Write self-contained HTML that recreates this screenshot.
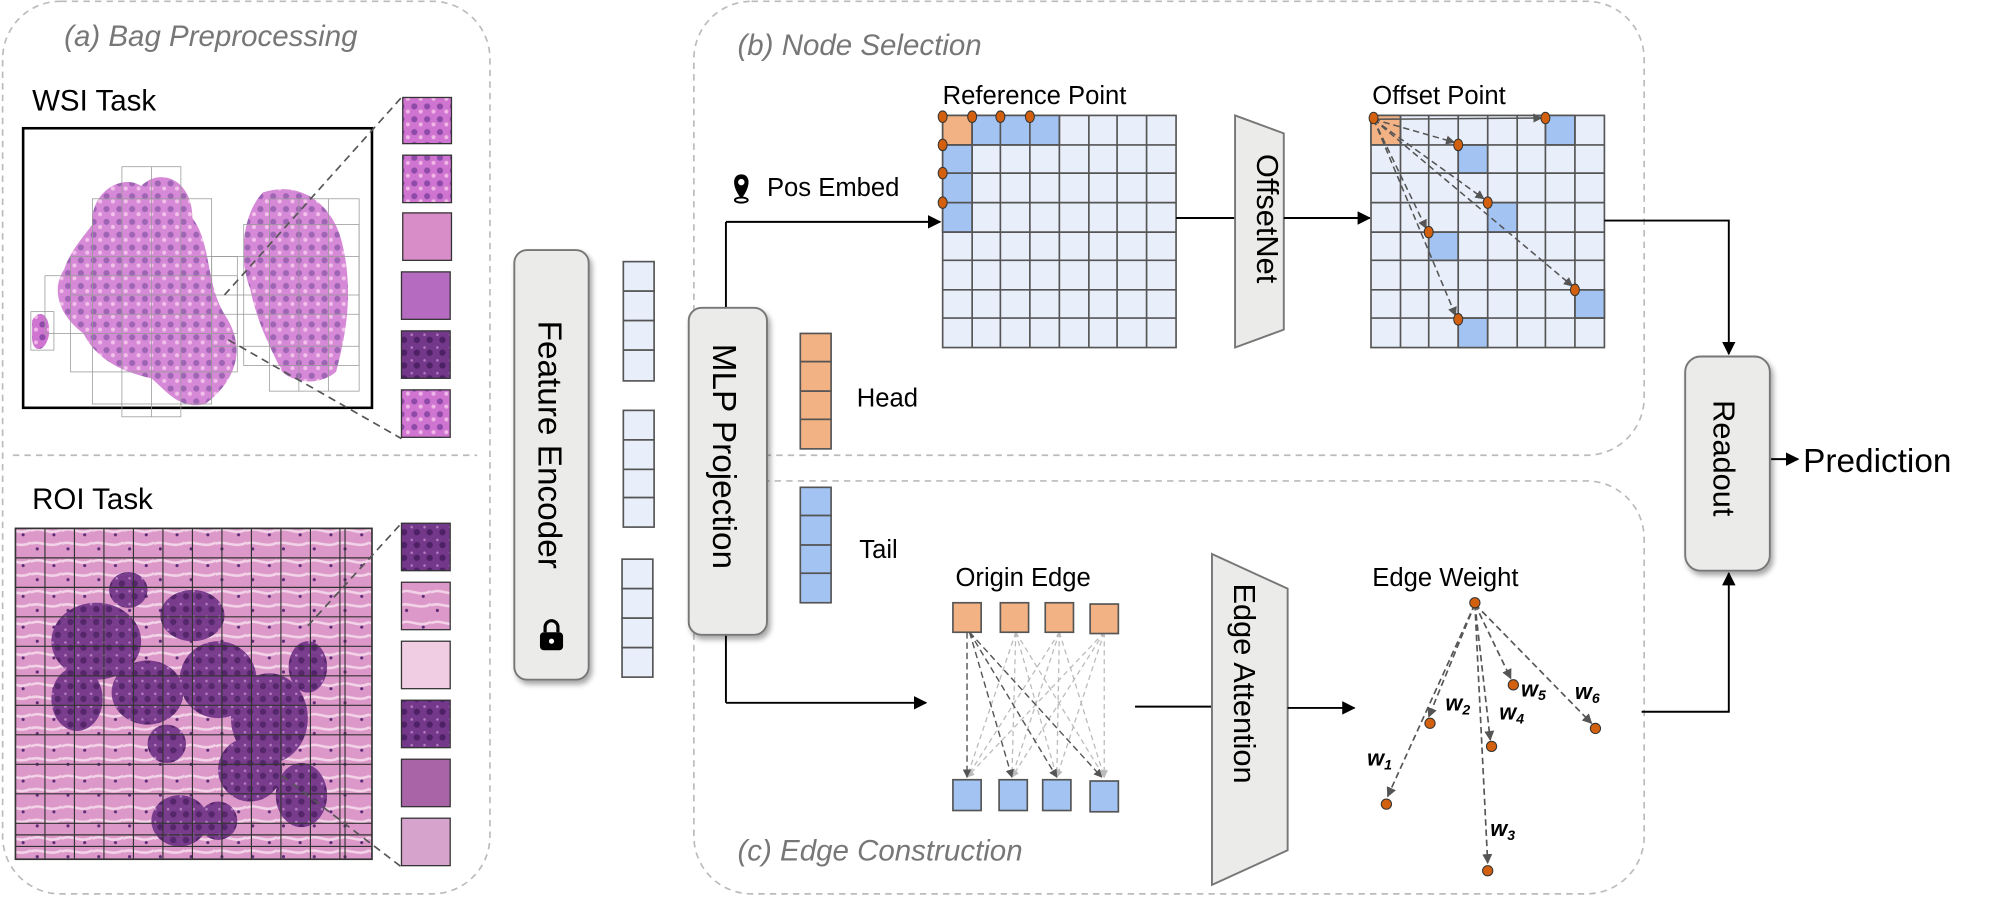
<!DOCTYPE html>
<html><head><meta charset="utf-8"><style>
html,body{margin:0;padding:0;background:#fff}
svg{display:block}
text{font-family:"Liberation Sans","DejaVu Sans",sans-serif}
</style></head><body>
<svg width="2011" height="899" viewBox="0 0 1568 701" xmlns="http://www.w3.org/2000/svg">
<defs>
<marker id="ab" viewBox="0 0 10 10" refX="9" refY="5" markerWidth="7" markerHeight="7" orient="auto"><path d="M0,0 L10,5 L0,10 z" fill="#000"/></marker>
<marker id="ag" viewBox="0 0 10 10" refX="9" refY="5" markerWidth="6" markerHeight="6" orient="auto"><path d="M0,0 L10,5 L0,10 z" fill="#555"/></marker>
<marker id="al" viewBox="0 0 10 10" refX="9" refY="5" markerWidth="6" markerHeight="6" orient="auto"><path d="M0,0 L10,5 L0,10 z" fill="#bbb"/></marker>
<pattern id="tis" width="10" height="10" patternUnits="userSpaceOnUse">
<rect width="10" height="10" fill="#cf74d0"/><circle cx="3" cy="3" r="2.4" fill="#8e4aa8"/><circle cx="8" cy="7" r="1.6" fill="#f0b6e6"/></pattern>
<pattern id="roi" width="24" height="24" patternUnits="userSpaceOnUse">
<rect width="24" height="24" fill="#dc98c8"/><path d="M0,6 C8,2 14,10 24,5 M0,16 C6,13 16,20 24,15" stroke="#f3d3e8" stroke-width="2" fill="none"/><circle cx="5" cy="20" r="1.2" fill="#5a2a75"/><circle cx="18" cy="9" r="1.2" fill="#5a2a75"/></pattern>
<pattern id="gl" width="10" height="10" patternUnits="userSpaceOnUse">
<rect width="10" height="10" fill="#74388a"/><circle cx="5" cy="5" r="2.5" fill="#4e2066"/><circle cx="1" cy="1" r="1" fill="#b57cc0"/></pattern>
<filter id="sh" x="-20%" y="-10%" width="150%" height="130%"><feDropShadow dx="2" dy="3" stdDeviation="2" flood-color="#000" flood-opacity="0.35"/></filter>
</defs>

<rect x="2" y="1" width="380" height="696" rx="45" fill="none" stroke="#bbb" stroke-width="1.3" stroke-dasharray="5,4"/>
<line x1="10" y1="355" x2="372" y2="355" stroke="#bbb" stroke-width="1.3" stroke-dasharray="5,4"/>
<rect x="541" y="1" width="741" height="354" rx="45" fill="none" stroke="#bbb" stroke-width="1.3" stroke-dasharray="5,4"/>
<rect x="541" y="375" width="741" height="322" rx="45" fill="none" stroke="#bbb" stroke-width="1.3" stroke-dasharray="5,4"/>
<text x="50" y="36" font-size="23" font-style="italic" fill="#777">(a) Bag Preprocessing</text>
<text x="575" y="43" font-size="23" font-style="italic" fill="#777">(b) Node Selection</text>
<text x="575" y="671" font-size="23" font-style="italic" fill="#777">(c) Edge Construction</text>

<text x="25" y="86" font-size="23" fill="#000">WSI Task</text>
<rect x="18" y="100" width="272" height="218" fill="#fff" stroke="#000" stroke-width="2"/>
<path d="M72,175 C70,150 95,135 110,145 C125,130 150,140 150,170 C165,190 160,220 175,245 C195,275 180,300 160,315 C140,320 130,305 118,295 C95,290 75,280 65,260 C45,245 40,225 50,210 C55,195 65,185 72,175 Z" fill="url(#tis)" opacity="0.85"/>
<path d="M205,150 C235,140 262,160 268,195 C275,230 270,260 262,290 C250,300 232,300 220,290 C210,270 200,250 195,225 C185,200 190,165 205,150 Z" fill="url(#tis)" opacity="0.85"/>
<path d="M25,250 C30,240 40,245 38,262 C35,275 26,275 25,265 Z" fill="url(#tis)"/>
<g stroke="#999" stroke-width="0.6" fill="none">
<rect x="95" y="130" width="46" height="195"/><rect x="72" y="155" width="93" height="160"/><rect x="55" y="200" width="130" height="90"/><rect x="35" y="215" width="150" height="45"/>
<rect x="210" y="155" width="70" height="150"/><rect x="190" y="175" width="90" height="110"/><rect x="165" y="200" width="115" height="70"/>
<rect x="24" y="243" width="18" height="30"/>
<line x1="118" y1="130" x2="118" y2="325"/><line x1="233" y1="155" x2="233" y2="305"/><line x1="256" y1="155" x2="256" y2="305"/>
<line x1="55" y1="230" x2="280" y2="230"/><line x1="72" y1="245" x2="280" y2="245"/>
</g>
<line x1="175" y1="230" x2="313" y2="76" stroke="#555" stroke-width="1.3" stroke-dasharray="6,4"/>
<line x1="178" y1="265" x2="313" y2="342" stroke="#555" stroke-width="1.3" stroke-dasharray="6,4"/>
<g stroke="#333" stroke-width="1">
<rect x="314" y="76" width="38" height="36" fill="url(#tis)"/>
<rect x="314" y="121" width="38" height="37" fill="url(#tis)"/>
<rect x="314" y="166" width="38" height="37" fill="#d88cc8"/>
<rect x="313" y="212" width="38" height="37" fill="#b46bc0"/>
<rect x="313" y="258" width="38" height="37" fill="url(#gl)"/>
<rect x="313" y="304" width="38" height="37" fill="url(#tis)"/>
</g>

<text x="25" y="397" font-size="23" fill="#000">ROI Task</text>
<rect x="12" y="412" width="278" height="258" fill="url(#roi)"/>
<g fill="url(#gl)" opacity="0.95">
<ellipse cx="75" cy="500" rx="35" ry="30"/><ellipse cx="60" cy="545" rx="20" ry="25"/><ellipse cx="115" cy="540" rx="28" ry="25"/>
<ellipse cx="150" cy="480" rx="25" ry="20"/><ellipse cx="170" cy="530" rx="30" ry="30"/><ellipse cx="210" cy="560" rx="30" ry="35"/>
<ellipse cx="195" cy="600" rx="25" ry="25"/><ellipse cx="140" cy="640" rx="22" ry="20"/><ellipse cx="235" cy="620" rx="20" ry="25"/>
<ellipse cx="100" cy="460" rx="15" ry="14"/><ellipse cx="130" cy="580" rx="15" ry="15"/>
<ellipse cx="240" cy="520" rx="15" ry="20"/><ellipse cx="170" cy="640" rx="15" ry="15"/>
</g>
<g stroke="#333" stroke-width="0.9">
<rect x="12" y="412" width="278" height="258" fill="none" stroke-width="1.3"/>
<path d="M35,412V670M58,412V670M81,412V670M104,412V670M127,412V670M150,412V670M173,412V670M196,412V670M219,412V670M242,412V670M265,412V670M269,412V670M12,435H290M12,458H290M12,481H290M12,504H290M12,527H290M12,550H290M12,573H290M12,596H290M12,619H290M12,642H290M12,651H290M12,660H290" fill="none"/>
</g>
<line x1="240" y1="488" x2="313" y2="408" stroke="#555" stroke-width="1.3" stroke-dasharray="6,4"/>
<line x1="220" y1="605" x2="313" y2="676" stroke="#555" stroke-width="1.3" stroke-dasharray="6,4"/>
<g stroke="#333" stroke-width="1">
<rect x="313" y="408" width="38" height="37" fill="url(#gl)"/>
<rect x="313" y="454" width="38" height="37" fill="url(#roi)"/>
<rect x="313" y="500" width="38" height="37" fill="#f0cde3"/>
<rect x="313" y="546" width="38" height="37" fill="url(#gl)"/>
<rect x="313" y="592" width="38" height="37" fill="#a964a8"/>
<rect x="313" y="638" width="38" height="37" fill="#d6a3cc"/>
</g>

<rect x="401" y="195" width="58" height="335" rx="10" fill="#ebebea" stroke="#777" stroke-width="1.5" filter="url(#sh)"/>
<text transform="translate(420,250) rotate(90)" font-size="26" fill="#000">Feature Encoder</text>
<g transform="translate(430,495)"><rect x="-9" y="-2" width="18" height="14" rx="3" fill="#000"/><path d="M-5,-2 v-4 a5,5 0 0 1 10,0 v4" fill="none" stroke="#000" stroke-width="2.5"/><circle cx="0" cy="5" r="2" fill="#fff"/></g>

<g fill="#e8effb" stroke="#555" stroke-width="1.3">
<rect x="486" y="204" width="24" height="23"/><rect x="486" y="227" width="24" height="23"/><rect x="486" y="250" width="24" height="23"/><rect x="486" y="273" width="24" height="24"/>
<rect x="486" y="320" width="24" height="23"/><rect x="486" y="343" width="24" height="23"/><rect x="486" y="366" width="24" height="22"/><rect x="486" y="388" width="24" height="23"/>
<rect x="485" y="436" width="24" height="23"/><rect x="485" y="459" width="24" height="23"/><rect x="485" y="482" width="24" height="23"/><rect x="485" y="505" width="24" height="23"/>
</g>

<line x1="566" y1="240" x2="566" y2="173" stroke="#000" stroke-width="1.5"/>
<line x1="566" y1="173" x2="733" y2="173" stroke="#000" stroke-width="1.5" marker-end="url(#ab)"/>
<line x1="566" y1="495" x2="566" y2="548" stroke="#000" stroke-width="1.5"/>
<line x1="566" y1="548" x2="722" y2="548" stroke="#000" stroke-width="1.5" marker-end="url(#ab)"/>
<rect x="537" y="240" width="61" height="255" rx="10" fill="#ebebea" stroke="#777" stroke-width="1.5" filter="url(#sh)"/>
<text transform="translate(556,268) rotate(90)" font-size="26" fill="#000">MLP Projection</text>

<g fill="#f3b283" stroke="#555" stroke-width="1.3">
<rect x="624" y="260" width="24" height="22"/><rect x="624" y="282" width="24" height="23"/><rect x="624" y="305" width="24" height="22"/><rect x="624" y="327" width="24" height="23"/></g>
<text x="668" y="317" font-size="20" fill="#000">Head</text>
<g fill="#a3c3f3" stroke="#555" stroke-width="1.3">
<rect x="624" y="380" width="24" height="22"/><rect x="624" y="402" width="24" height="23"/><rect x="624" y="425" width="24" height="22"/><rect x="624" y="447" width="24" height="23"/></g>
<text x="670" y="435" font-size="20" fill="#000">Tail</text>

<g transform="translate(578,137)"><path d="M0,18 C-8,8 -7,-1 0,-1 C7,-1 8,8 0,18 Z" fill="#000"/><circle cx="0" cy="5" r="2.5" fill="#fff"/><ellipse cx="0" cy="19" rx="5" ry="2" fill="none" stroke="#000" stroke-width="1.5"/></g>
<text x="598" y="153" font-size="20" fill="#000">Pos Embed</text>

<text x="735" y="81" font-size="20" fill="#000">Reference Point</text>
<g stroke="#555" stroke-width="1.3">
<rect x="735" y="90" width="182" height="181" fill="#e8effb"/>
<rect x="735" y="90" width="23" height="23" fill="#f3b283"/>
<rect x="758" y="90" width="68" height="23" fill="#a3c3f3"/>
<rect x="735" y="113" width="23" height="68" fill="#a3c3f3"/>
<path d="M758,90 V271 M780,90 V271 M803,90 V271 M826,90 V271 M849,90 V271 M871,90 V271 M894,90 V271 M735,113 H917 M735,135 H917 M735,158 H917 M735,181 H917 M735,203 H917 M735,226 H917 M735,248 H917" fill="none"/>
</g>
<g fill="#d2600e" stroke="#333" stroke-width="0.8">
<ellipse cx="735" cy="91" rx="3.5" ry="4.5"/><ellipse cx="758" cy="91" rx="3.5" ry="4.5"/><ellipse cx="780" cy="91" rx="3.5" ry="4.5"/><ellipse cx="803" cy="91" rx="3.5" ry="4.5"/>
<ellipse cx="735" cy="113" rx="3.5" ry="4.5"/><ellipse cx="735" cy="135" rx="3.5" ry="4.5"/><ellipse cx="735" cy="158" rx="3.5" ry="4.5"/></g>

<line x1="917" y1="170" x2="963" y2="170" stroke="#000" stroke-width="1.5"/>
<path d="M963,90 L1001,104 L1001,257 L963,271 Z" fill="#ebebea" stroke="#777" stroke-width="1.5"/>
<text transform="translate(980,120) rotate(90)" font-size="24" fill="#000">OffsetNet</text>
<line x1="1001" y1="170" x2="1068" y2="170" stroke="#000" stroke-width="1.5" marker-end="url(#ab)"/>

<text x="1070" y="81" font-size="20" fill="#000">Offset Point</text>
<g stroke="#555" stroke-width="1.3">
<rect x="1069" y="90" width="182" height="181" fill="#e8effb"/>
<rect x="1069" y="90" width="23" height="23" fill="#f3b283"/>
<g fill="#a3c3f3"><rect x="1205" y="90" width="23" height="23"/><rect x="1137" y="113" width="23" height="22"/><rect x="1160" y="158" width="23" height="23"/><rect x="1114" y="181" width="23" height="22"/><rect x="1228" y="226" width="23" height="22"/><rect x="1137" y="248" width="23" height="23"/></g>
<path d="M1092,90 V271 M1114,90 V271 M1137,90 V271 M1160,90 V271 M1183,90 V271 M1205,90 V271 M1228,90 V271 M1069,113 H1251 M1069,135 H1251 M1069,158 H1251 M1069,181 H1251 M1069,203 H1251 M1069,226 H1251 M1069,248 H1251" fill="none"/>
</g>
<g stroke="#555" stroke-width="1.2" stroke-dasharray="5,3" fill="none" marker-end="url(#ag)">
<line x1="1071" y1="93" x2="1202" y2="92" stroke-dasharray="none"/>
<line x1="1071" y1="93" x2="1134" y2="111"/><line x1="1071" y1="93" x2="1157" y2="155"/><line x1="1071" y1="93" x2="1112" y2="178"/><line x1="1071" y1="93" x2="1226" y2="223"/><line x1="1071" y1="93" x2="1135" y2="246"/>
</g>
<g fill="#d2600e" stroke="#333" stroke-width="0.8">
<ellipse cx="1071" cy="92" rx="3.5" ry="4.5"/><ellipse cx="1205" cy="92" rx="3.5" ry="4.5"/><ellipse cx="1137" cy="113" rx="3.5" ry="4.5"/><ellipse cx="1160" cy="158" rx="3.5" ry="4.5"/><ellipse cx="1114" cy="181" rx="3.5" ry="4.5"/><ellipse cx="1228" cy="226" rx="3.5" ry="4.5"/><ellipse cx="1137" cy="249" rx="3.5" ry="4.5"/></g>

<polyline points="1251,172 1348,172 1348,276" fill="none" stroke="#000" stroke-width="1.5" marker-end="url(#ab)"/>
<polyline points="1280,555 1348,555 1348,447" fill="none" stroke="#000" stroke-width="1.5" marker-end="url(#ab)"/>
<rect x="1314" y="278" width="66" height="167" rx="12" fill="#ebebea" stroke="#777" stroke-width="1.5" filter="url(#sh)"/>
<text transform="translate(1336,312) rotate(90)" font-size="24" fill="#000">Readout</text>
<line x1="1381" y1="358" x2="1402" y2="358" stroke="#000" stroke-width="1.5" marker-end="url(#ab)"/>
<text x="1406" y="368" font-size="26" fill="#000">Prediction</text>

<text x="745" y="457" font-size="20" fill="#000">Origin Edge</text>
<g stroke="#bbb" stroke-width="1" stroke-dasharray="4,3" marker-end="url(#al)">
<line x1="792" y1="493" x2="754" y2="606"/><line x1="792" y1="493" x2="789" y2="606"/><line x1="792" y1="493" x2="824" y2="606"/><line x1="792" y1="493" x2="861" y2="606"/>
<line x1="826" y1="493" x2="754" y2="606"/><line x1="826" y1="493" x2="789" y2="606"/><line x1="826" y1="493" x2="824" y2="606"/><line x1="826" y1="493" x2="861" y2="606"/>
<line x1="861" y1="493" x2="754" y2="606"/><line x1="861" y1="493" x2="789" y2="606"/><line x1="861" y1="493" x2="824" y2="606"/><line x1="861" y1="493" x2="861" y2="606"/>
</g>
<g stroke="#555" stroke-width="1.1" stroke-dasharray="5,3" marker-end="url(#ag)">
<line x1="754" y1="493" x2="754" y2="606"/><line x1="756" y1="493" x2="789" y2="606"/><line x1="756" y1="493" x2="824" y2="606"/><line x1="756" y1="493" x2="859" y2="606"/>
</g>
<g fill="#f3b283" stroke="#555" stroke-width="1.3">
<rect x="743" y="470" width="22" height="23"/><rect x="780" y="470" width="22" height="23"/><rect x="815" y="470" width="22" height="23"/><rect x="850" y="471" width="22" height="23"/></g>
<g fill="#a3c3f3" stroke="#555" stroke-width="1.3">
<rect x="743" y="608" width="22" height="24"/><rect x="779" y="608" width="22" height="24"/><rect x="813" y="608" width="22" height="24"/><rect x="850" y="609" width="22" height="24"/></g>

<line x1="885" y1="551" x2="945" y2="551" stroke="#000" stroke-width="1.5"/>
<path d="M945,432 L1004,459 L1004,663 L945,690 Z" fill="#ebebea" stroke="#777" stroke-width="1.5"/>
<text transform="translate(962,455) rotate(90)" font-size="24" fill="#000">Edge Attention</text>
<line x1="1004" y1="552" x2="1056" y2="552" stroke="#000" stroke-width="1.5" marker-end="url(#ab)"/>

<text x="1070" y="457" font-size="20" fill="#000">Edge Weight</text>
<g stroke="#555" stroke-width="1.3" stroke-dasharray="5,3" marker-end="url(#ag)">
<line x1="1150" y1="471" x2="1082" y2="621"/><line x1="1150" y1="471" x2="1114" y2="559"/><line x1="1150" y1="471" x2="1160" y2="673"/><line x1="1150" y1="471" x2="1162" y2="577"/><line x1="1150" y1="471" x2="1178" y2="529"/><line x1="1150" y1="471" x2="1241" y2="564"/>
</g>
<g fill="#d2600e" stroke="#333" stroke-width="0.8">
<circle cx="1150" cy="470" r="4"/><circle cx="1081" cy="627" r="4"/><circle cx="1115" cy="564" r="4"/><circle cx="1160" cy="679" r="4"/><circle cx="1163" cy="582" r="4"/><circle cx="1180" cy="534" r="4"/><circle cx="1244" cy="568" r="4"/></g>
<g font-family="Liberation Serif,serif" font-weight="bold" font-style="italic" font-size="17" fill="#000">
<text x="1066" y="597">w<tspan font-size="11" dy="3">1</tspan></text>
<text x="1127" y="554">w<tspan font-size="11" dy="3">2</tspan></text>
<text x="1162" y="652">w<tspan font-size="11" dy="3">3</tspan></text>
<text x="1169" y="561">w<tspan font-size="11" dy="3">4</tspan></text>
<text x="1186" y="543">w<tspan font-size="11" dy="3">5</tspan></text>
<text x="1228" y="545">w<tspan font-size="11" dy="3">6</tspan></text>
</g>
</svg>
</body></html>
